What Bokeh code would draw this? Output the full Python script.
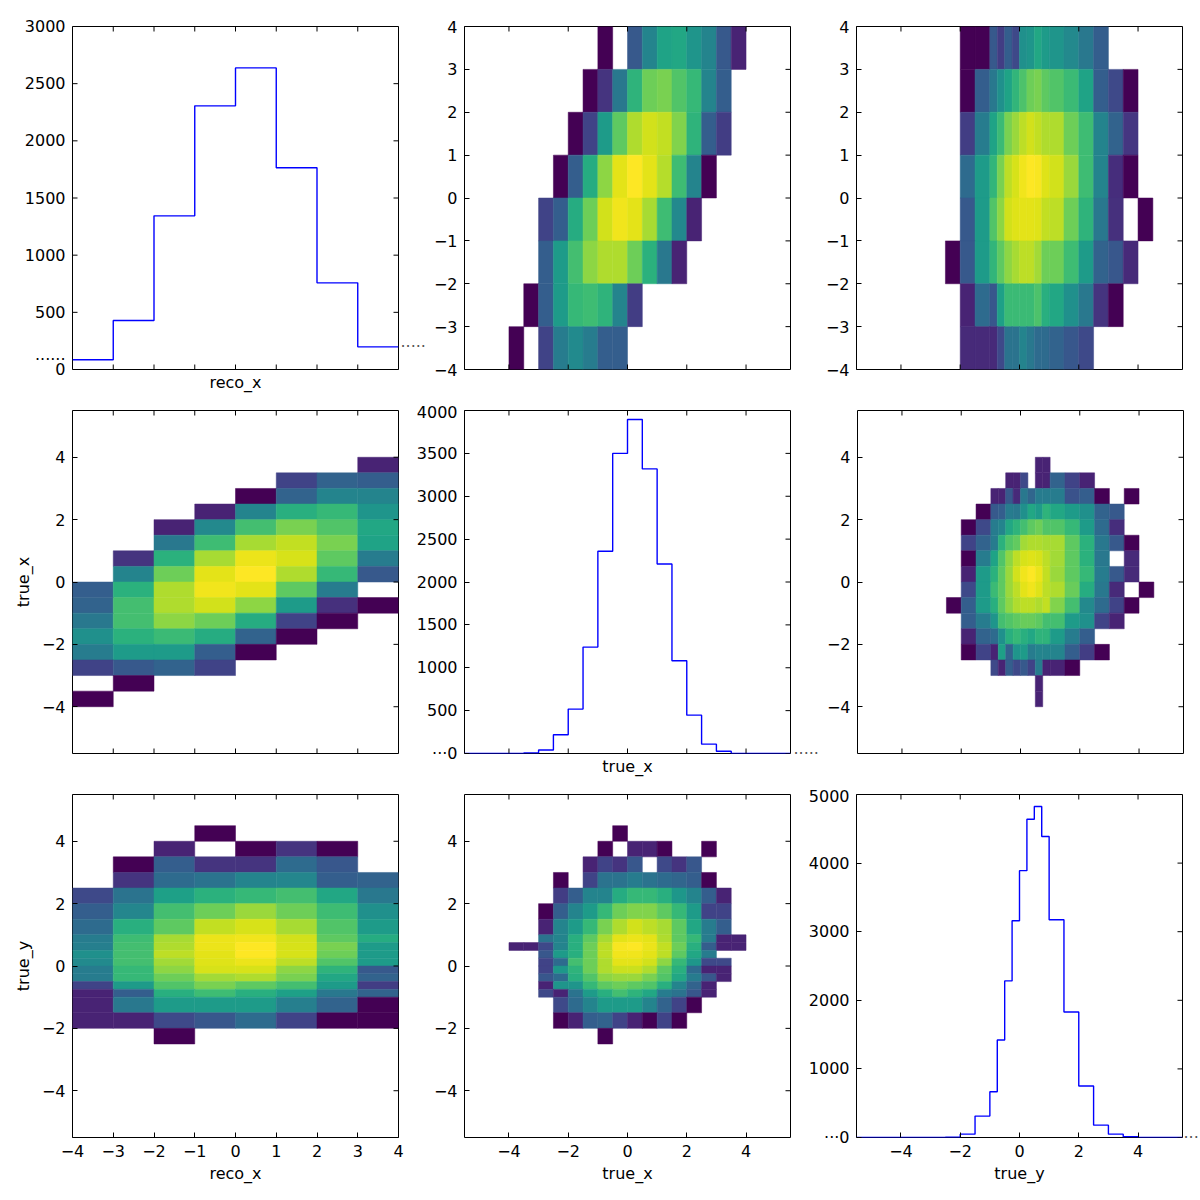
from bokeh.plotting import figure
from bokeh.layouts import column, row
from bokeh.models import FixedTicker, Range1d, ColumnDataSource, LinearAxis
from bokeh.palettes import Viridis256
from bokeh.transform import linear_cmap
from bokeh.embed import file_html
from bokeh.resources import INLINE

# ---------------------------------------------------------------- data
_ = None

RECO_X_EDGES = [-4, -3, -2, -1, 0, 1, 2, 3, 4]
RECO_X_COUNTS = [85, 428, 1344, 2306, 2638, 1764, 758, 198]

TRUE_X_EDGES = [-5.5, -5, -4.5, -4, -3.5, -3, -2.5, -2, -1.5, -1, -0.5, 0,
                0.5, 1, 1.5, 2, 2.5, 3, 3.5, 4, 4.5, 5, 5.5]
TRUE_X_COUNTS = [0, 0, 0, 2, 5, 40, 218, 518, 1241, 2358, 3500, 3895,
                 3319, 2210, 1082, 447, 109, 27, 2, 0, 0, 0]

TRUE_Y_EDGES = [-5.5, -5, -4.5, -4, -3.5, -3, -2.5, -2, -1.5, -1, -0.75, -0.5,
                -0.25, 0, 0.25, 0.5, 0.75, 1, 1.5, 2, 2.5, 3, 3.5, 4, 4.5, 5, 5.5]
TRUE_Y_COUNTS = [0, 0, 0, 0, 0, 0, 3, 49, 312, 667, 1422, 2283, 3160, 3890,
                 4640, 4825, 4387, 3174, 1830, 750, 180, 49, 10, 1, 0, 0]

# bin edges used by the 2-d histograms
RX_2D = [-4, -3, -2, -1, 0, 1, 2, 3, 4]
TX_2D = [-4, -3.5, -3, -2.5, -2, -1.5, -1, -0.5, 0, 0.5, 1, 1.5, 2, 2.5, 3, 3.5, 4]
TY_2D = [-2.5, -2, -1.5, -1, -0.75, -0.5, -0.25, 0, 0.25, 0.5, 0.75, 1,
         1.5, 2, 2.5, 3, 3.5, 4, 4.5]

# relative cell intensities (0..1), rows listed from the top bin down
H_TRUEX_RECOX = [
    [_, _, _, _, _, _, 0.0, _, 0.28, 0.45, 0.58, 0.6, 0.52, 0.45, 0.28, 0.1],
    [_, _, _, _, _, 0.0, 0.15, 0.4, 0.65, 0.78, 0.8, 0.73, 0.67, 0.45, 0.3, _],
    [_, _, _, _, 0.0, 0.2, 0.55, 0.75, 0.88, 0.93, 0.91, 0.81, 0.65, 0.3, 0.18, _],
    [_, _, _, 0.0, 0.3, 0.62, 0.83, 0.96, 1.0, 0.96, 0.89, 0.69, 0.45, 0.0, _, _],
    [_, _, 0.2, 0.3, 0.62, 0.78, 0.93, 0.98, 0.96, 0.87, 0.69, 0.47, 0.1, _, _, _],
    [_, _, 0.3, 0.55, 0.7, 0.83, 0.88, 0.88, 0.78, 0.64, 0.4, 0.1, _, _, _, _],
    [_, 0.0, 0.3, 0.55, 0.67, 0.69, 0.65, 0.45, 0.18, _, _, _, _, _, _, _],
    [0.0, _, 0.2, 0.42, 0.48, 0.42, 0.3, 0.3, _, _, _, _, _, _, _, _],
]

H_TRUEY_RECOX = [
    [_, 0.0, 0.0, 0.28, 0.18, 0.3, 0.22, 0.5, 0.52, 0.6, 0.55, 0.52, 0.47, 0.4, 0.3, _, _, _],
    [_, 0.0, 0.3, 0.4, 0.5, 0.58, 0.66, 0.72, 0.78, 0.8, 0.75, 0.73, 0.68, 0.58, 0.3, 0.22, 0.0, _],
    [_, 0.18, 0.42, 0.58, 0.68, 0.8, 0.85, 0.9, 0.93, 0.91, 0.88, 0.88, 0.78, 0.69, 0.45, 0.32, 0.16, _],
    [_, 0.35, 0.55, 0.66, 0.8, 0.9, 0.94, 0.98, 1.0, 0.99, 0.95, 0.93, 0.85, 0.69, 0.45, 0.13, 0.0, _],
    [_, 0.28, 0.55, 0.73, 0.83, 0.93, 0.95, 0.96, 0.96, 0.95, 0.91, 0.9, 0.78, 0.65, 0.4, 0.14, _, 0.0],
    [0.0, 0.28, 0.55, 0.66, 0.75, 0.83, 0.87, 0.9, 0.9, 0.86, 0.78, 0.78, 0.69, 0.55, 0.32, 0.27, 0.12, _],
    [_, 0.1, 0.35, 0.27, 0.57, 0.68, 0.68, 0.68, 0.68, 0.72, 0.63, 0.6, 0.5, 0.4, 0.15, 0.0, _, _],
    [_, 0.12, 0.12, 0.12, 0.22, 0.38, 0.38, 0.45, 0.4, 0.35, 0.35, 0.32, 0.27, 0.22, _, _, _, _],
]

H_RECOX_TRUEX = [
    [_, _, _, _, _, _, _, 0.1],
    [_, _, _, _, _, 0.2, 0.32, 0.3],
    [_, _, _, _, 0.0, 0.32, 0.45, 0.45],
    [_, _, _, 0.1, 0.45, 0.63, 0.67, 0.52],
    [_, _, 0.1, 0.47, 0.7, 0.8, 0.73, 0.6],
    [_, _, 0.4, 0.69, 0.87, 0.91, 0.8, 0.58],
    [_, 0.15, 0.64, 0.87, 0.97, 0.94, 0.75, 0.42],
    [_, 0.45, 0.78, 0.96, 1.0, 0.88, 0.67, 0.28],
    [0.3, 0.64, 0.88, 0.98, 0.96, 0.75, 0.42, _],
    [0.32, 0.7, 0.88, 0.93, 0.83, 0.55, 0.14, 0.0],
    [0.4, 0.7, 0.83, 0.78, 0.62, 0.2, 0.0, _],
    [0.5, 0.64, 0.68, 0.62, 0.32, 0.0, _, _],
    [0.42, 0.55, 0.55, 0.3, 0.0, _, _, _],
    [0.2, 0.28, 0.32, 0.2, _, _, _, _],
    [_, 0.0, _, _, _, _, _, _],
    [0.0, _, _, _, _, _, _, _],
]

H_TRUEY_TRUEX = [
    [_, _, _, _, _, _, _, _, _, 0.1, 0.1, _, _, _, _, _, _, _],
    [_, _, _, _, _, 0.1, 0.1, 0.22, _, 0.1, 0.1, 0.32, 0.2, 0.1, _, _, _, _],
    [_, _, _, 0.1, 0.1, 0.28, 0.12, 0.4, 0.33, 0.42, 0.42, 0.42, 0.25, 0.3, 0.0, _, 0.0, _],
    [_, _, 0.0, 0.28, 0.3, 0.42, 0.4, 0.5, 0.6, 0.55, 0.65, 0.6, 0.55, 0.5, 0.32, 0.28, _, _],
    [_, 0.0, 0.22, 0.42, 0.45, 0.6, 0.65, 0.7, 0.75, 0.78, 0.73, 0.73, 0.67, 0.55, 0.35, 0.13, _, _],
    [_, 0.2, 0.32, 0.42, 0.64, 0.73, 0.76, 0.86, 0.88, 0.88, 0.87, 0.87, 0.75, 0.64, 0.4, 0.28, 0.0, _],
    [_, 0.0, 0.42, 0.58, 0.73, 0.83, 0.9, 0.94, 0.95, 0.94, 0.9, 0.86, 0.75, 0.64, 0.4, _, 0.12, _],
    [_, 0.1, 0.55, 0.64, 0.75, 0.85, 0.93, 0.98, 1.0, 0.97, 0.91, 0.85, 0.75, 0.67, 0.42, 0.28, 0.12, _],
    [_, 0.22, 0.55, 0.68, 0.75, 0.85, 0.9, 0.96, 0.98, 0.95, 0.9, 0.88, 0.77, 0.62, 0.4, 0.12, _, 0.0],
    [0.0, 0.3, 0.55, 0.63, 0.75, 0.83, 0.88, 0.9, 0.9, 0.88, 0.91, 0.81, 0.7, 0.47, 0.35, 0.2, 0.0, _],
    [_, 0.3, 0.42, 0.52, 0.7, 0.73, 0.75, 0.77, 0.77, 0.75, 0.7, 0.7, 0.55, 0.5, 0.2, 0.1, _, _],
    [_, 0.1, 0.32, 0.35, 0.5, 0.63, 0.67, 0.63, 0.6, 0.65, 0.65, 0.55, 0.42, 0.3, _, _, _, _],
    [_, 0.0, 0.2, 0.1, 0.57, 0.32, 0.52, 0.55, 0.42, 0.45, 0.45, 0.45, 0.3, 0.18, 0.0, _, _, _],
    [_, _, _, 0.22, 0.1, 0.3, 0.22, 0.28, 0.2, 0.42, 0.1, 0.1, 0.0, _, _, _, _, _],
    [_, _, _, _, _, _, _, _, _, 0.1, _, _, _, _, _, _, _, _],
    [_, _, _, _, _, _, _, _, _, 0.1, _, _, _, _, _, _, _, _],
]

H_RECOX_TRUEY = [
    [_, _, _, 0.0, _, _, _, _],
    [_, _, 0.1, _, 0.0, 0.15, 0.0, _],
    [_, 0.0, 0.3, 0.15, 0.15, 0.35, 0.27, _],
    [_, 0.15, 0.35, 0.38, 0.45, 0.46, 0.3, 0.32],
    [0.22, 0.38, 0.57, 0.64, 0.67, 0.7, 0.6, 0.4],
    [0.3, 0.46, 0.7, 0.78, 0.85, 0.78, 0.69, 0.5],
    [0.35, 0.63, 0.75, 0.91, 0.94, 0.87, 0.73, 0.55],
    [0.42, 0.69, 0.87, 0.97, 0.98, 0.93, 0.75, 0.62],
    [0.43, 0.7, 0.88, 0.97, 1.0, 0.94, 0.8, 0.55],
    [0.5, 0.7, 0.9, 0.96, 1.0, 0.94, 0.78, 0.55],
    [0.48, 0.7, 0.86, 0.95, 0.97, 0.9, 0.73, 0.55],
    [0.42, 0.67, 0.83, 0.94, 0.94, 0.83, 0.65, 0.28],
    [0.42, 0.67, 0.78, 0.86, 0.88, 0.8, 0.6, 0.32],
    [0.2, 0.55, 0.73, 0.8, 0.75, 0.7, 0.55, 0.18],
    [0.1, 0.3, 0.63, 0.69, 0.63, 0.57, 0.4, 0.32],
    [0.1, 0.4, 0.55, 0.55, 0.55, 0.43, 0.32, 0.0],
    [0.1, 0.1, 0.22, 0.27, 0.35, 0.2, 0.0, 0.0],
    [_, _, 0.0, _, _, _, _, _],
]

H_TRUEX_TRUEY = [
    [_, _, _, _, _, _, _, 0.0, _, _, _, _, _, _, _, _],
    [_, _, _, _, _, _, 0.0, _, 0.1, 0.1, 0.0, _, _, 0.0, _, _],
    [_, _, _, _, _, 0.1, 0.2, 0.15, 0.27, _, 0.22, 0.15, 0.27, _, _, _],
    [_, _, _, 0.0, _, 0.2, 0.38, 0.38, 0.42, 0.38, 0.35, 0.33, 0.3, 0.0, _, _],
    [_, _, _, 0.18, 0.3, 0.45, 0.45, 0.62, 0.67, 0.67, 0.63, 0.53, 0.45, 0.3, 0.1, _],
    [_, _, 0.0, 0.3, 0.45, 0.55, 0.67, 0.78, 0.81, 0.81, 0.75, 0.67, 0.55, 0.2, 0.2, _],
    [_, _, 0.1, 0.45, 0.55, 0.67, 0.8, 0.88, 0.93, 0.9, 0.87, 0.75, 0.6, 0.42, 0.3, _],
    [_, _, 0.38, 0.45, 0.63, 0.75, 0.87, 0.96, 0.97, 0.96, 0.88, 0.75, 0.67, 0.42, 0.1, 0.1],
    [0.1, 0.1, 0.22, 0.45, 0.63, 0.78, 0.9, 0.99, 1.0, 0.97, 0.91, 0.78, 0.63, 0.3, 0.1, 0.1],
    [_, _, 0.27, 0.55, 0.63, 0.78, 0.9, 0.98, 0.98, 0.96, 0.9, 0.75, 0.6, 0.42, _, _],
    [_, _, 0.2, 0.35, 0.7, 0.78, 0.88, 0.96, 0.96, 0.93, 0.83, 0.67, 0.53, 0.22, 0.22, _],
    [_, _, 0.2, 0.53, 0.65, 0.78, 0.88, 0.92, 0.92, 0.88, 0.75, 0.63, 0.35, 0.1, 0.1, _],
    [_, _, 0.27, 0.35, 0.63, 0.73, 0.83, 0.85, 0.85, 0.8, 0.73, 0.6, 0.42, 0.27, 0.1, _],
    [_, _, 0.1, 0.52, 0.52, 0.67, 0.75, 0.78, 0.75, 0.73, 0.63, 0.45, 0.32, 0.1, _, _],
    [_, _, 0.22, 0.1, 0.38, 0.55, 0.63, 0.7, 0.65, 0.6, 0.42, 0.38, 0.27, 0.1, _, _],
    [_, _, _, 0.22, 0.35, 0.45, 0.55, 0.55, 0.55, 0.45, 0.32, 0.2, 0.0, _, _, _],
    [_, _, _, 0.0, 0.1, 0.3, 0.32, 0.2, 0.1, 0.0, 0.2, 0.0, _, _, _, _],
    [_, _, _, _, _, _, 0.0, _, _, _, _, _, _, _, _, _],
]

# ---------------------------------------------------------------- styling
FONT = "DejaVu Sans"
FRAME_W, FRAME_H = 326, 343
TICK_LEN = 5
WIDE = (-5.5, 5.5)
NARROW = (-4, 4)
TICKS_1 = [-4, -3, -2, -1, 0, 1, 2, 3, 4]
TICKS_2 = [-4, -2, 0, 2, 4]
DOT = "\u00b7"

# frame borders (left, right) of each panel, chosen so that the frames line
# up in three columns across every row
BORDERS = {
    (0, 0): (72, 30), (0, 1): (36, 8), (0, 2): (58, 18),
    (1, 0): (72, 8), (1, 1): (58, 30), (1, 2): (36, 18),
    (2, 0): (72, 8), (2, 1): (58, 8), (2, 2): (58, 18),
}


def fmt(t):
    s = str(int(t)) if float(t).is_integer() else str(t)
    return s.replace("-", "\u2212")


def style_label(ax, label, standoff):
    ax.axis_label = label
    ax.axis_label_text_font = FONT
    ax.axis_label_text_font_size = "16px"
    ax.axis_label_text_font_style = "normal"
    ax.axis_label_text_color = "black"
    ax.axis_label_standoff = standoff


def style_axis(ax, ticks, overrides=None):
    ax.ticker = FixedTicker(ticks=ticks)
    ax.axis_line_color = None
    ax.major_tick_in = TICK_LEN
    ax.major_tick_out = 0
    ax.minor_tick_in = 0
    ax.minor_tick_out = 0
    ax.major_tick_line_color = "black"
    ax.major_tick_line_width = 1
    ax.minor_tick_line_color = None
    ax.major_label_text_font = FONT
    ax.major_label_text_font_size = "16px"
    ax.major_label_text_color = "black"
    ax.major_label_standoff = 7
    labels = {t: fmt(t) for t in ticks}
    labels.update(overrides or {})
    ax.major_label_overrides = labels


def inner_ticks(p, xr, yr, xticks, yticks, bottom, left=None):
    # inward tick marks on the sides drawn without an axis of their own
    ux = (xr[1] - xr[0]) / FRAME_W * TICK_LEN
    uy = (yr[1] - yr[0]) / FRAME_H * TICK_LEN
    x0, y0, x1, y1 = [], [], [], []
    for t in xticks:
        x0 += [t]; x1 += [t]; y0 += [yr[1]]; y1 += [yr[1] - uy]
        if bottom:
            x0 += [t]; x1 += [t]; y0 += [yr[0]]; y1 += [yr[0] + uy]
    for t in yticks:
        x0 += [xr[1]]; x1 += [xr[1] - ux]; y0 += [t]; y1 += [t]
    for t in (left or []):
        x0 += [xr[0]]; x1 += [xr[0] + ux]; y0 += [t]; y1 += [t]
    p.segment(x0=x0, y0=y0, x1=x1, y1=y1, line_color="black", line_width=1)


def make_panel(r, c, xr, yr, xticks, yticks, x_labels, xlabel=None, ylabel=None):
    bl, br = BORDERS[(r, c)]
    p = figure(
        frame_width=FRAME_W, frame_height=FRAME_H,
        x_range=Range1d(*xr), y_range=Range1d(*yr),
        output_backend="svg", toolbar_location=None,
        min_border_left=bl, min_border_right=br,
        min_border_top=26 if r == 0 else 8,
        min_border_bottom=63 if r == 2 else 33,
        background_fill_color="white", border_fill_color="white",
    )
    p.grid.visible = False
    p.outline_line_color = "black"
    p.outline_line_width = 1

    xa = p.xaxis[0]
    if x_labels:
        style_axis(xa, xticks)
        if xlabel:
            style_label(xa, xlabel, 4)
    elif xlabel:
        xa.ticker = FixedTicker(ticks=[])
        xa.axis_line_color = None
        xa.major_tick_line_color = None
        xa.minor_tick_line_color = None
        xa.major_tick_out = 0
        xa.major_tick_in = 0
        style_label(xa, xlabel, 3)
    else:
        xa.visible = False

    ya = p.yaxis[0]
    style_axis(ya, yticks)
    if ylabel:
        style_label(ya, ylabel, 6)
    return p


CMAP = linear_cmap("v", Viridis256, 0, 1)


def add_heatmap(p, x_edges, y_edges, grid):
    n_rows = len(grid)
    cols = dict(left=[], right=[], bottom=[], top=[], v=[])
    for r, vals in enumerate(grid):
        yi = n_rows - 1 - r
        for ci, v in enumerate(vals):
            if v is None:
                continue
            cols["left"].append(x_edges[ci])
            cols["right"].append(x_edges[ci + 1])
            cols["bottom"].append(y_edges[yi])
            cols["top"].append(y_edges[yi + 1])
            cols["v"].append(v)
    src = ColumnDataSource(cols)
    p.quad(left="left", right="right", bottom="bottom", top="top", source=src,
           fill_color=CMAP, line_color=CMAP, line_width=0.5)


def add_hist(p, edges, counts, n_right, gap_right):
    p.step(x=edges, y=counts + [counts[-1]], mode="after",
           line_color="#0000ff", line_width=1.4)
    # dotted run continuing the outline past the right edge of the frame
    ax = LinearAxis(ticker=FixedTicker(ticks=[counts[-1]]))
    ax.axis_line_color = None
    ax.major_tick_line_color = None
    ax.minor_tick_line_color = None
    ax.major_tick_in = 0
    ax.major_tick_out = 0
    ax.minor_tick_in = 0
    ax.minor_tick_out = 0
    ax.major_label_text_font = FONT
    ax.major_label_text_font_size = "16px"
    ax.major_label_text_color = "#555555"
    ax.major_label_standoff = gap_right
    ax.major_label_overrides = {counts[-1]: DOT * n_right}
    p.add_layout(ax, "right")


# ---------------------------------------------------------------- panels
Y00 = [0, 500, 1000, 1500, 2000, 2500, 3000]
p00 = make_panel(0, 0, NARROW, (0, 3000), TICKS_1, Y00, False, xlabel="reco_x")
add_hist(p00, RECO_X_EDGES, RECO_X_COUNTS, 5, 2)
# the left run of dots sits on the count axis, whose marks are drawn separately
style_axis(p00.yaxis[0], sorted(Y00 + [RECO_X_COUNTS[0]]), {RECO_X_COUNTS[0]: DOT * 6})
p00.yaxis[0].major_tick_line_color = None
inner_ticks(p00, NARROW, (0, 3000), TICKS_1, Y00, True, left=Y00)

p01 = make_panel(0, 1, WIDE, NARROW, TICKS_2, TICKS_1, False)
add_heatmap(p01, TX_2D, RX_2D, H_TRUEX_RECOX)
inner_ticks(p01, WIDE, NARROW, TICKS_2, TICKS_1, True)

p02 = make_panel(0, 2, WIDE, NARROW, TICKS_2, TICKS_1, False)
add_heatmap(p02, TY_2D, RX_2D, H_TRUEY_RECOX)
inner_ticks(p02, WIDE, NARROW, TICKS_2, TICKS_1, True)

p10 = make_panel(1, 0, NARROW, WIDE, TICKS_1, TICKS_2, False, ylabel="true_x")
add_heatmap(p10, RX_2D, TX_2D, H_RECOX_TRUEX)
inner_ticks(p10, NARROW, WIDE, TICKS_1, TICKS_2, True)

Y11 = [0, 500, 1000, 1500, 2000, 2500, 3000, 3500, 4000]
p11 = make_panel(1, 1, WIDE, (0, 4000), TICKS_2, Y11, False, xlabel="true_x")
add_hist(p11, TRUE_X_EDGES, TRUE_X_COUNTS, 5, 3)
style_axis(p11.yaxis[0], Y11, {0: DOT * 3 + "0"})
inner_ticks(p11, WIDE, (0, 4000), TICKS_2, Y11, True)

p12 = make_panel(1, 2, WIDE, WIDE, TICKS_2, TICKS_2, False)
add_heatmap(p12, TY_2D, TX_2D, H_TRUEY_TRUEX)
inner_ticks(p12, WIDE, WIDE, TICKS_2, TICKS_2, True)

p20 = make_panel(2, 0, NARROW, WIDE, TICKS_1, TICKS_2, True, xlabel="reco_x", ylabel="true_y")
add_heatmap(p20, RX_2D, TY_2D, H_RECOX_TRUEY)
inner_ticks(p20, NARROW, WIDE, TICKS_1, TICKS_2, False)

p21 = make_panel(2, 1, WIDE, WIDE, TICKS_2, TICKS_2, True, xlabel="true_x")
add_heatmap(p21, TX_2D, TY_2D, H_TRUEX_TRUEY)
inner_ticks(p21, WIDE, WIDE, TICKS_2, TICKS_2, False)

Y22 = [0, 1000, 2000, 3000, 4000, 5000]
p22 = make_panel(2, 2, WIDE, (0, 5000), TICKS_2, Y22, True, xlabel="true_y")
add_hist(p22, TRUE_Y_EDGES, TRUE_Y_COUNTS, 3, 1)
style_axis(p22.yaxis[0], Y22, {0: DOT * 3 + "0"})
inner_ticks(p22, WIDE, (0, 5000), TICKS_2, Y22, False)

layout = column(row(p00, p01, p02), row(p10, p11, p12), row(p20, p21, p22))

open("out.html", "w").write(file_html(layout, INLINE))
